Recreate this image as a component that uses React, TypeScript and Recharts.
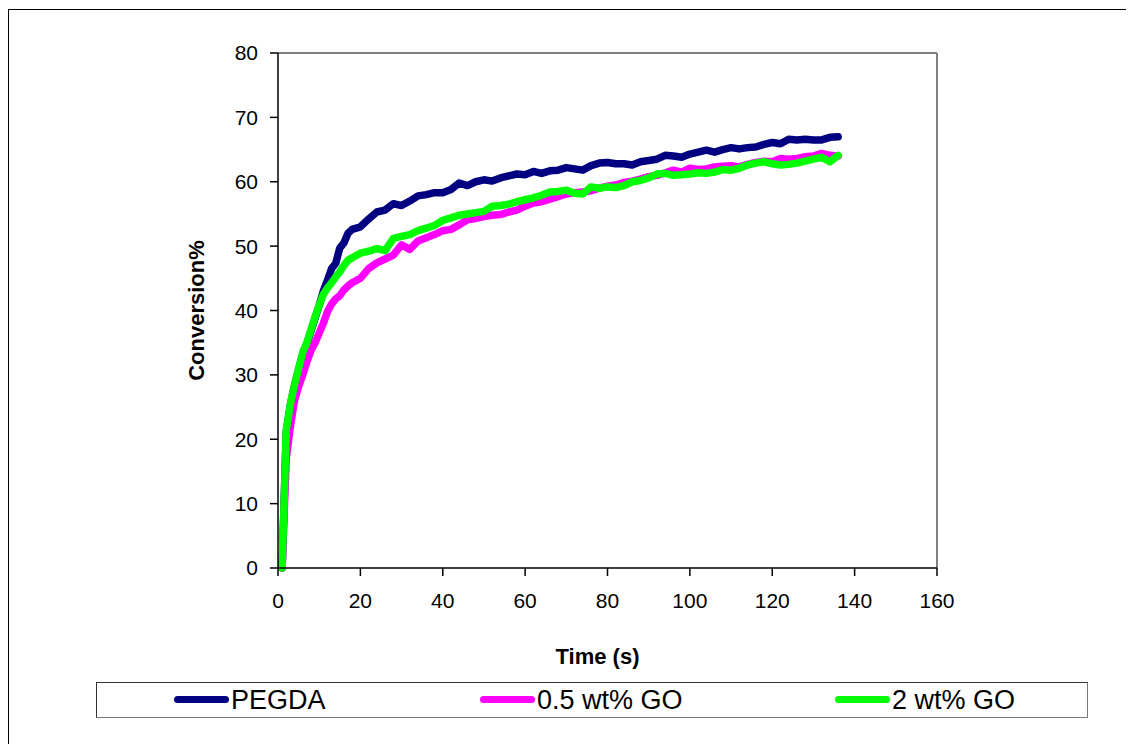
import React from 'react';
import { LineChart, Line, XAxis, YAxis, ReferenceLine } from 'recharts';

// time (s)
const times = [
  1, 2, 3, 4, 5, 6, 7, 8, 9, 10,
  11, 12, 13, 14, 15, 16, 17, 18, 20, 22,
  24, 26, 28, 30, 32, 34, 36, 38, 40, 42,
  44, 46, 48, 50, 52, 54, 56, 58, 60, 62,
  64, 66, 68, 70, 72, 74, 76, 78, 80, 82,
  84, 86, 88, 90, 92, 94, 96, 98, 100, 102,
  104, 106, 108, 110, 112, 114, 116, 118, 120, 122,
  124, 126, 128, 130, 132, 134, 136,
];

const pegda = [
  0, 21, 25.3, 28.3, 30.8, 33.2, 34.8, 36.8, 38.8, 40.8,
  43, 44.7, 46.5, 47.3, 49.7, 50.5, 52, 52.6, 53, 54.2,
  55.3, 55.6, 56.6, 56.3, 57, 57.8, 58, 58.3, 58.3, 58.8,
  59.8, 59.4, 60, 60.3, 60.1, 60.6, 60.9, 61.2, 61.1, 61.6,
  61.3, 61.7, 61.8, 62.2, 62, 61.8, 62.5, 62.9, 63, 62.8,
  62.8, 62.6, 63.1, 63.3, 63.5, 64.1, 64, 63.8, 64.3, 64.6,
  64.9, 64.6, 65, 65.3, 65.1, 65.3, 65.4, 65.8, 66.1, 65.9,
  66.6, 66.5, 66.6, 66.5, 66.5, 66.9, 67,
];

const go05 = [
  0, 17, 22, 26, 28.2, 30, 32, 33.8, 35, 36.5,
  38, 39.8, 41, 41.8, 42.3, 43.2, 43.8, 44.3, 45, 46.5,
  47.4, 48, 48.6, 50.2, 49.5, 50.8, 51.3, 51.8, 52.4, 52.6,
  53.3, 54.1, 54.3, 54.6, 54.8, 54.9, 55.3, 55.6, 56.2, 56.7,
  56.9, 57.3, 57.7, 58.1, 58.3, 58.4, 58.6, 59, 59.3, 59.5,
  59.9, 60.1, 60.4, 60.8, 61, 61.4, 61.8, 61.5, 62.1, 61.9,
  62, 62.3, 62.4, 62.5, 62.3, 62.7, 63, 63.2, 63.1, 63.6,
  63.5, 63.6, 63.9, 64, 64.4, 64.1, 64,
];

const go2 = [
  0, 21.5, 25.5, 28.5, 31, 33.5, 35, 37, 39, 40.8,
  42.5, 43.5, 44.3, 45.2, 46, 47, 47.8, 48.2, 48.9, 49.2,
  49.6, 49.3, 51.2, 51.5, 51.8, 52.4, 52.8, 53.2, 54, 54.4,
  54.8, 55, 55.2, 55.4, 56.2, 56.3, 56.5, 56.9, 57.2, 57.5,
  57.9, 58.4, 58.5, 58.7, 58.2, 58.1, 59.2, 59, 59.2, 59.1,
  59.4, 60, 60.2, 60.6, 61.2, 61.3, 61, 61.1, 61.2, 61.4,
  61.3, 61.5, 61.9, 61.8, 62.1, 62.6, 62.9, 63.1, 62.8, 62.6,
  62.7, 62.9, 63.2, 63.5, 63.8, 63.1, 64.1,
];

const xTicks = [0, 20, 40, 60, 80, 100, 120, 140, 160];
const yTicks = [0, 10, 20, 30, 40, 50, 60, 70, 80];

const series = [
  { key: 'pegda', name: 'PEGDA', color: '#000080' },
  { key: 'go05', name: '0.5 wt% GO', color: '#FF00FF' },
  { key: 'go2', name: '2 wt% GO', color: '#00FF00' },
];

const data = times.map((t, i) => ({ t, pegda: pegda[i], go05: go05[i], go2: go2[i] }));

const font = '"Liberation Sans", Arial, sans-serif';

const XTitle = (props: any) => {
  const vb = props.viewBox || {};
  return (
    <text x={vb.x + vb.width / 2 - 10} y={vb.y + 88} textAnchor="middle" dominantBaseline="central"
      fontSize={22} fontWeight="bold" fill="#000" fontFamily={font}>
      Time (s)
    </text>
  );
};

const YTitle = (props: any) => {
  const vb = props.viewBox || {};
  const cx = vb.x + 8;
  const cy = vb.y + vb.height / 2;
  return (
    <text x={cx} y={cy} transform={`rotate(-90 ${cx} ${cy})`} textAnchor="middle" dominantBaseline="central"
      fontSize={22} fontWeight="bold" fill="#000" fontFamily={font}>
      Conversion%
    </text>
  );
};

// legend line start positions (px from the legend box's left edge)
const legendLeft = [77, 383, 738];

export default function App() {
  return (
    <div style={{ position: 'relative', width: 1126, height: 736, overflow: 'hidden', fontFamily: font, background: '#fff' }}>
      <div style={{ position: 'absolute', left: 0, top: 1, width: 1200, height: 800, border: '1px solid #000', boxSizing: 'border-box' }} />
      <div style={{ position: 'absolute', left: 0, top: 0 }}>
        <LineChart width={1126} height={736} data={data} margin={{ top: 45, right: 197, left: 180, bottom: 76 }}>
          <XAxis
            dataKey="t"
            type="number"
            domain={[0, 160]}
            ticks={xTicks}
            tickSize={8}
            tickMargin={17}
            height={100}
            stroke="#000"
            strokeWidth={1.5}
            tick={{ fill: '#000', fontSize: 21, fontFamily: font }}
            label={{ content: XTitle }}
          />
          <YAxis
            type="number"
            domain={[0, 80]}
            ticks={yTicks}
            tickSize={8}
            tickMargin={12}
            width={90}
            stroke="#000"
            strokeWidth={1.5}
            tick={{ fill: '#000', fontSize: 21, fontFamily: font }}
            label={{ content: YTitle }}
          />
          <ReferenceLine y={80} stroke="#808080" strokeWidth={2} />
          <ReferenceLine x={160} stroke="#808080" strokeWidth={2} />
          {series.map((s) => (
            <Line
              key={s.key}
              type="linear"
              dataKey={s.key}
              name={s.name}
              stroke={s.color}
              strokeWidth={7.5}
              strokeLinejoin="round"
              strokeLinecap="round"
              dot={false}
              isAnimationActive={false}
            />
          ))}
        </LineChart>
      </div>
      <div style={{ position: 'absolute', left: 88, top: 674, width: 992, height: 36, border: '1px solid #333', borderRightColor: '#777', borderBottomColor: '#777', boxSizing: 'border-box' }}>
        {series.map((s, i) => (
          <React.Fragment key={s.key}>
            <div style={{
              position: 'absolute', left: legendLeft[i], top: 13, width: 55,
              height: 7, borderRadius: 4, background: s.color,
            }} />
            <div style={{
              position: 'absolute', left: legendLeft[i] + 57, top: 0, height: 34,
              lineHeight: '34px', fontSize: 27, color: '#000', whiteSpace: 'nowrap',
            }}>
              {s.name}
            </div>
          </React.Fragment>
        ))}
      </div>
    </div>
  );
}
